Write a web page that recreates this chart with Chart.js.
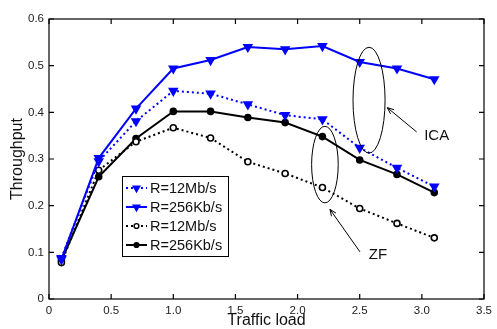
<!DOCTYPE html>
<html>
<head>
<meta charset="utf-8">
<script src="https://cdn.jsdelivr.net/npm/chart.js@4/dist/chart.umd.min.js"></script>
<style>
  html, body { margin: 0; padding: 0; background: #fff; }
  #wrap { width: 497px; height: 329px; }
</style>
</head>
<body>
<div id="wrap"><canvas id="chart" width="497" height="329"></canvas></div>
<script>
// traffic load values (x) and throughput per curve
const loads = [0.1, 0.4, 0.7, 1.0, 1.3, 1.6, 1.9, 2.2, 2.5, 2.8, 3.1];
const icaFast = [0.088, 0.295, 0.381, 0.446, 0.440, 0.417, 0.394, 0.385, 0.324, 0.281, 0.241];
const icaSlow = [0.085, 0.302, 0.408, 0.494, 0.512, 0.540, 0.535, 0.542, 0.508, 0.494, 0.471];
const zfFast = [0.078, 0.276, 0.337, 0.367, 0.345, 0.294, 0.269, 0.239, 0.194, 0.162, 0.131];
const zfSlow = [0.083, 0.262, 0.344, 0.402, 0.402, 0.389, 0.378, 0.348, 0.298, 0.267, 0.228];
const seriesLabels = ["R=12Mb/s", "R=256Kb/s", "R=12Mb/s", "R=256Kb/s"];
const xTicks = [0, 0.5, 1, 1.5, 2, 2.5, 3, 3.5];
const yTicks = [0, 0.1, 0.2, 0.3, 0.4, 0.5, 0.6];

const FONT = "'Liberation Sans', Arial, Helvetica, sans-serif";
const BLUE = "#0000ff";

const pts = ys => loads.map((x, i) => ({ x: x, y: ys[i] }));

function makeSet(label, ys, color, dashed, style, fill) {
    return {
        label: label,
        data: pts(ys),
        borderColor: color,
        borderWidth: 2,
        borderDash: dashed ? [2, 3] : [],
        pointStyle: style,
        rotation: style === "triangle" ? 180 : 0,
        pointRadius: style === "triangle" ? 4.5 : 3,
        pointBorderWidth: 1.6,
        pointBorderColor: color,
        pointBackgroundColor: fill,
        tension: 0,
        fill: false
    };
}

// annotation ellipses/arrows, placed in data units
const ellipses = [
    { cx: 2.575, cy: 0.426, rx: 0.129, ry: 0.1135 },
    { cx: 2.22, cy: 0.288, rx: 0.107, ry: 0.082 }
];
const arrows = [
    { x0: 2.958, y0: 0.358, x1: 2.722, y1: 0.410 },
    { x0: 2.502, y0: 0.101, x1: 2.261, y1: 0.192 }
];
const notes = [
    { text: "ICA", x: 3.119, y: 0.349 },
    { text: "ZF", x: 2.647, y: 0.095 }
];

const decor = {
    id: "decor",
    afterDraw(chart) {
        const ctx = chart.ctx;
        const a = chart.chartArea;
        const xs = chart.scales.x, ys = chart.scales.y;
        ctx.save();
        // box + inward ticks
        ctx.strokeStyle = "#000";
        ctx.lineWidth = 1.2;
        ctx.strokeRect(a.left, a.top, a.right - a.left, a.bottom - a.top);
        ctx.beginPath();
        xTicks.forEach(v => {
            const px = xs.getPixelForValue(v);
            ctx.moveTo(px, a.bottom); ctx.lineTo(px, a.bottom - 5);
            ctx.moveTo(px, a.top); ctx.lineTo(px, a.top + 5);
        });
        yTicks.forEach(v => {
            const py = ys.getPixelForValue(v);
            ctx.moveTo(a.left, py); ctx.lineTo(a.left + 5, py);
            ctx.moveTo(a.right, py); ctx.lineTo(a.right - 5, py);
        });
        ctx.stroke();

        // ellipses
        ctx.lineWidth = 1;
        ellipses.forEach(e => {
            const cx = xs.getPixelForValue(e.cx), cy = ys.getPixelForValue(e.cy);
            const rx = Math.abs(xs.getPixelForValue(e.cx + e.rx) - cx);
            const ry = Math.abs(ys.getPixelForValue(e.cy + e.ry) - cy);
            ctx.beginPath();
            ctx.ellipse(cx, cy, rx, ry, 0, 0, Math.PI * 2);
            ctx.stroke();
        });
        // arrows
        arrows.forEach(r => {
            const x0 = xs.getPixelForValue(r.x0), y0 = ys.getPixelForValue(r.y0);
            const x1 = xs.getPixelForValue(r.x1), y1 = ys.getPixelForValue(r.y1);
            const ang = Math.atan2(y1 - y0, x1 - x0);
            ctx.beginPath();
            ctx.moveTo(x0, y0); ctx.lineTo(x1, y1);
            ctx.moveTo(x1 - 7 * Math.cos(ang - 0.4), y1 - 7 * Math.sin(ang - 0.4));
            ctx.lineTo(x1, y1);
            ctx.lineTo(x1 - 7 * Math.cos(ang + 0.4), y1 - 7 * Math.sin(ang + 0.4));
            ctx.stroke();
        });
        ctx.fillStyle = "#111";
        ctx.font = "15px " + FONT;
        ctx.textAlign = "center";
        ctx.textBaseline = "middle";
        notes.forEach(n => ctx.fillText(n.text, xs.getPixelForValue(n.x), ys.getPixelForValue(n.y)));

        // legend box
        const lx = 122, ly = 176, lw = 106, lh = 80;
        ctx.fillStyle = "#fff";
        ctx.fillRect(lx, ly, lw, lh);
        ctx.strokeStyle = "#000";
        ctx.lineWidth = 1;
        ctx.strokeRect(lx + 0.5, ly + 0.5, lw, lh);
        ctx.textAlign = "left";
        ctx.font = "14.5px " + FONT;
        chart.data.datasets.forEach((ds, i) => {
            const yy = ly + 12 + i * 19;
            ctx.strokeStyle = ds.borderColor;
            ctx.lineWidth = 2;
            ctx.setLineDash(ds.borderDash);
            ctx.beginPath();
            ctx.moveTo(lx + 4, yy); ctx.lineTo(lx + 25, yy);
            ctx.stroke();
            ctx.setLineDash([]);
            ctx.fillStyle = ds.pointBackgroundColor;
            ctx.lineWidth = 1.4;
            Chart.helpers.drawPoint(ctx, {
                pointStyle: ds.pointStyle,
                rotation: ds.rotation,
                radius: ds.pointStyle === "triangle" ? 3.8 : 2.4,
                borderWidth: 1.4
            }, lx + 14.5, yy);
            ctx.fillStyle = "#111";
            ctx.fillText(ds.label, lx + 28, yy + 1);
        });

        // axis titles
        ctx.fillStyle = "#111";
        ctx.font = "16px " + FONT;
        ctx.textAlign = "center";
        ctx.fillText("Traffic load", (a.left + a.right) / 2, 321);
        ctx.translate(18, (a.top + a.bottom) / 2);
        ctx.rotate(-Math.PI / 2);
        ctx.fillText("Throughput", 0, 0);
        ctx.restore();
    }
};

new Chart(document.getElementById("chart"), {
    type: "line",
    data: {
        datasets: [
            makeSet(seriesLabels[0], icaFast, BLUE, true, "triangle", BLUE),
            makeSet(seriesLabels[1], icaSlow, BLUE, false, "triangle", BLUE),
            makeSet(seriesLabels[2], zfFast, "#000", true, "circle", "#fff"),
            makeSet(seriesLabels[3], zfSlow, "#000", false, "circle", "#000")
        ]
    },
    options: {
        responsive: false,
        animation: false,
        layout: { padding: { top: 19, right: 13, left: 0, bottom: 0 } },
        plugins: { legend: { display: false }, tooltip: { enabled: false } },
        scales: {
            x: {
                type: "linear",
                min: 0, max: 3.5,
                afterBuildTicks: s => { s.ticks = xTicks.map(v => ({ value: v })); },
                afterFit: s => { s.height = 30; },
                grid: { display: false, drawTicks: false },
                border: { display: false },
                ticks: { padding: 5, color: "#222", font: { family: FONT, size: 11.5 }, maxRotation: 0 }
            },
            y: {
                min: 0, max: 0.6,
                afterBuildTicks: s => { s.ticks = yTicks.map(v => ({ value: v })); },
                afterFit: s => { s.width = 49; },
                grid: { display: false, drawTicks: false },
                border: { display: false },
                ticks: { padding: 5, color: "#222", font: { family: FONT, size: 11.5 } }
            }
        }
    },
    plugins: [decor]
});
</script>
</body>
</html>
